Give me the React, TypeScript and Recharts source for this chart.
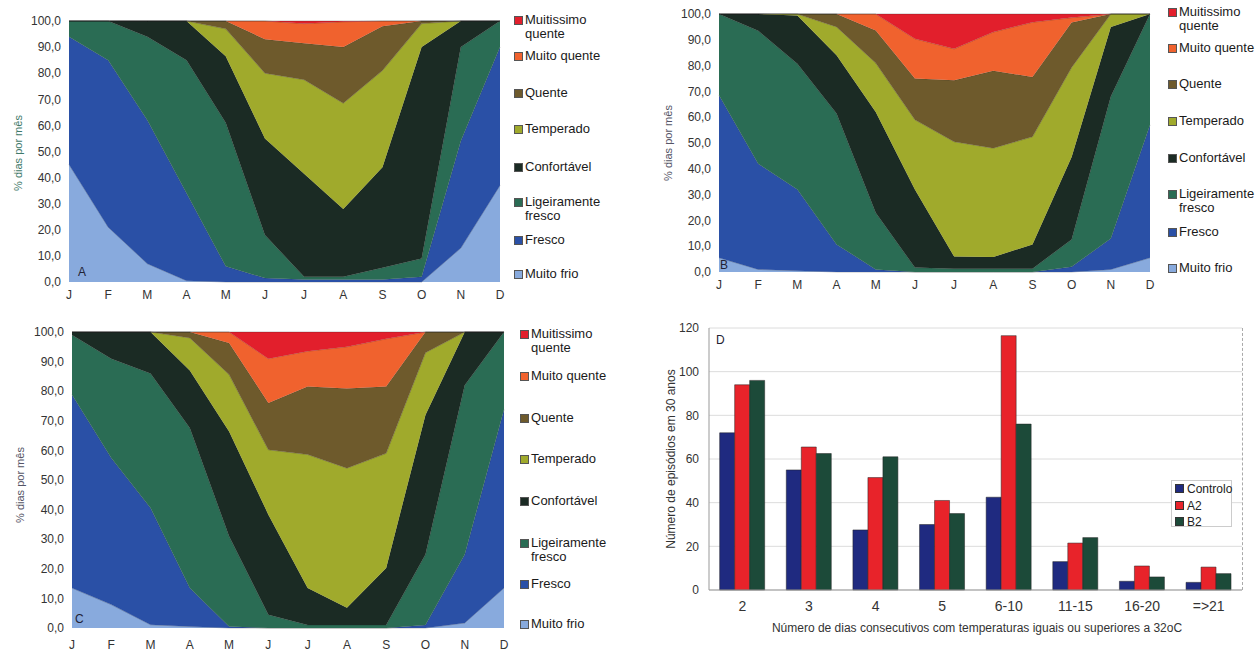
import React from "react";
import { AreaChart, Area, BarChart, Bar, XAxis, YAxis, CartesianGrid } from "recharts";

const months = ["J", "F", "M", "A", "M", "J", "J", "A", "S", "O", "N", "D"];

// bottom to top of the stack
const classNames = [
  "Muito frio",
  "Fresco",
  "Ligeiramente\nfresco",
  "Confortável",
  "Temperado",
  "Quente",
  "Muito quente",
  "Muitissimo\nquente",
];
const classColors = ["#88aadd", "#2a50a6", "#2a6c54", "#1b2b24", "#a0aa2c", "#6e5a2c", "#f0622e", "#e21f2c"];

// painel A
const aMuitoFrio = [45, 21, 7, 0.5, 0, 0, 0, 0, 0, 0, 13, 37];
const aFresco = [49, 64, 55, 33.5, 6, 1.5, 1, 1, 1, 2, 41, 53];
const aLigFresco = [6, 15, 32, 51, 55, 16.5, 1, 1, 4.5, 7, 36, 10];
const aConfortavel = [0, 0, 6, 15, 25.5, 37, 39.5, 26, 38.5, 81, 10, 0];
const aTemperado = [0, 0, 0, 0, 10.5, 25, 36, 40.5, 37, 9, 0, 0];
const aQuente = [0, 0, 0, 0, 3, 13, 14, 21.5, 17, 1, 0, 0];
const aMuitoQuente = [0, 0, 0, 0, 0, 7, 7.5, 9.7, 2, 0, 0, 0];
const aMuitissimo = [0, 0, 0, 0, 0, 0, 1, 0.3, 0, 0, 0, 0];

// painel B
const bMuitoFrio = [5.5, 1, 0.5, 0, 0, 0, 0, 0, 0, 0, 1, 5.5];
const bFresco = [63, 41, 31.5, 10.7, 1, 0, 0, 0, 0, 2, 12, 51.5];
const bLigFresco = [31.5, 51.5, 48.7, 50.7, 22, 1.7, 1.3, 1.3, 1.3, 10.6, 55, 43];
const bConfortavel = [0, 6.5, 18.7, 22.6, 39, 30.3, 4.7, 4.5, 9.4, 32, 27, 0];
const bTemperado = [0, 0, 0.6, 11, 19, 27, 44.5, 42.2, 41.7, 34.7, 5, 0];
const bQuente = [0, 0, 0, 5, 12.6, 16, 23.8, 30, 23.2, 17.4, 0, 0];
const bMuitoQuente = [0, 0, 0, 0, 6.4, 15.4, 12.2, 15, 21.2, 1.9, 0, 0];
const bMuitissimo = [0, 0, 0, 0, 0, 9.6, 13.5, 7, 3.2, 1.4, 0, 0];

// painel C
const cMuitoFrio = [13.5, 7.9, 1.1, 0.5, 0, 0, 0, 0, 0, 0, 1.7, 13.5];
const cFresco = [65.3, 49.5, 39.4, 13, 0.5, 0, 0, 0, 0, 1, 23.1, 60.3];
const cLigFresco = [20.2, 33.6, 45.5, 54.1, 30.5, 4.5, 1, 1, 1, 23.8, 57.2, 26.2];
const cConfortavel = [1, 9, 14, 19.4, 35.4, 33.8, 12.5, 5.8, 19.3, 47.2, 18, 0];
const cTemperado = [0, 0, 0, 11, 19.2, 21.9, 45.1, 47.2, 38.7, 21, 0, 0];
const cQuente = [0, 0, 0, 2, 10.7, 15.8, 23, 26.9, 22.6, 7, 0, 0];
const cMuitoQuente = [0, 0, 0, 0, 3.7, 15, 11.9, 14.1, 16.1, 0, 0, 0];
const cMuitissimo = [0, 0, 0, 0, 0, 9, 6.5, 5, 2.3, 0, 0, 0];

// painel D
const dCats = ["2", "3", "4", "5", "6-10", "11-15", "16-20", "=>21"];
const dControlo = [72, 55, 27.5, 30, 42.5, 13, 4, 3.5];
const dA2 = [94, 65.5, 51.5, 41, 116.5, 21.5, 11, 10.5];
const dB2 = [96, 62.5, 61, 35, 76, 24, 6, 7.5];

const pctTicks = [0, 10, 20, 30, 40, 50, 60, 70, 80, 90, 100];
const countTicks = [0, 20, 40, 60, 80, 100, 120];

const FONT = '"Liberation Sans", Arial, sans-serif';

function VText({ x, y, text, size, color }: { x: number; y: number; text: string; size: number; color: string }) {
  return (
    <div
      style={{
        position: "absolute",
        left: x,
        top: y,
        transform: "translate(-50%, -50%) rotate(-90deg)",
        whiteSpace: "nowrap",
        fontSize: size,
        color,
      }}
    >
      {text}
    </div>
  );
}

function ClassLegend({ x, ys }: { x: number; ys: number[] }) {
  // ys run from the top item (Muitissimo quente) down to Muito frio
  return (
    <>
      {ys.map((y, n) => {
        const k = classNames.length - 1 - n;
        return (
          <div key={k} style={{ position: "absolute", left: x, top: y - 7, fontSize: 13, lineHeight: "14px", color: "#1a1a1a" }}>
            <span
              style={{
                position: "absolute",
                left: 0,
                top: 3,
                width: 7,
                height: 7,
                background: classColors[k],
                border: "0.5px solid #555",
              }}
            />
            <div style={{ marginLeft: 11, whiteSpace: "pre" }}>{classNames[k]}</div>
          </div>
        );
      })}
    </>
  );
}

type AreaPanelProps = {
  left: number;
  top: number;
  width: number;
  height: number;
  plotLeft: number;
  plotTop: number;
  plotRight: number;
  plotBottom: number;
  series: number[][];
  tickGap?: number;
};

function AreaPanel({ left, top, width, height, plotLeft, plotTop, plotRight, plotBottom, series, tickGap = 2 }: AreaPanelProps) {
  const rows = months.map((m, i) => {
    const r: Record<string, number> = { i };
    series.forEach((s, k) => {
      r["k" + k] = s[i];
    });
    return r;
  });
  return (
    <div style={{ position: "absolute", left, top }}>
      <AreaChart
        width={width}
        height={height}
        data={rows}
        margin={{ top: plotTop, right: width - plotRight, left: 0, bottom: 0 }}
      >
        <XAxis
          dataKey="i"
          tickFormatter={(v: number) => months[v]}
          interval={0}
          height={height - plotBottom}
          axisLine={false}
          tickLine={false}
          tickMargin={tickGap}
          tick={{ fontSize: 12, fill: "#333", fontFamily: FONT }}
        />
        <YAxis
          domain={[0, 100]}
          ticks={pctTicks}
          width={plotLeft}
          interval={0}
          axisLine={false}
          tickLine={false}
          tickFormatter={(v: number) => v.toFixed(1).replace(".", ",")}
          tick={{ fontSize: 12, fill: "#333", fontFamily: FONT }}
        />
        {series.map((s, k) => (
          <Area
            key={k}
            type="linear"
            dataKey={"k" + k}
            stackId="1"
            fill={classColors[k]}
            fillOpacity={1}
            stroke="#222"
            strokeOpacity={0.35}
            strokeWidth={0.8}
            isAnimationActive={false}
          />
        ))}
      </AreaChart>
    </div>
  );
}

export default function App() {
  const dRows = dCats.map((c, i) => ({ c, controlo: dControlo[i], a2: dA2[i], b2: dB2[i] }));

  return (
    <div
      style={{
        position: "absolute",
        left: 0,
        top: 0,
        width: 1257,
        height: 651,
        background: "#fff",
        overflow: "hidden",
        fontFamily: FONT,
      }}
    >
      {/* A */}
      <AreaPanel
        left={0}
        top={0}
        width={620}
        height={310}
        plotLeft={69}
        plotTop={21}
        plotRight={500}
        plotBottom={282}
        series={[aMuitoFrio, aFresco, aLigFresco, aConfortavel, aTemperado, aQuente, aMuitoQuente, aMuitissimo]}
      />
      <VText x={18} y={153} text="% dias por mês" size={11} color="#3f7a6a" />
      <div style={{ position: "absolute", left: 78, top: 265, fontSize: 12, color: "#223" }}>A</div>
      <ClassLegend x={514} ys={[20, 56, 93, 129, 167, 202, 240, 274]} />

      {/* B */}
      <AreaPanel
        left={630}
        top={0}
        width={627}
        height={310}
        plotLeft={89}
        plotTop={14}
        plotRight={520}
        plotBottom={272}
        series={[bMuitoFrio, bFresco, bLigFresco, bConfortavel, bTemperado, bQuente, bMuitoQuente, bMuitissimo]}
      />
      <VText x={668} y={143} text="% dias por mês" size={11} color="#556" />
      <div style={{ position: "absolute", left: 720, top: 258, fontSize: 12, color: "#223" }}>B</div>
      <ClassLegend x={1168} ys={[12, 48, 84, 121, 158, 194, 232, 268]} />

      {/* C */}
      <AreaPanel
        left={0}
        top={315}
        width={620}
        height={336}
        plotLeft={72}
        plotTop={17}
        plotRight={504}
        plotBottom={313}
        tickGap={6}
        series={[cMuitoFrio, cFresco, cLigFresco, cConfortavel, cTemperado, cQuente, cMuitoQuente, cMuitissimo]}
      />
      <VText x={20} y={485} text="% dias por mês" size={11} color="#556" />
      <div style={{ position: "absolute", left: 75, top: 612, fontSize: 12, color: "#223" }}>C</div>
      <ClassLegend x={520} ys={[334, 376, 418, 459, 501, 543, 584, 624]} />

      {/* D */}
      <div style={{ position: "absolute", left: 640, top: 315 }}>
        <BarChart
          width={617}
          height={336}
          data={dRows}
          margin={{ top: 13, right: 15, left: 0, bottom: 0 }}
          barCategoryGap="16%"
          barGap={0}
        >
          <CartesianGrid vertical={false} stroke="#dcdcdc" />
          <XAxis
            dataKey="c"
            interval={0}
            height={61}
            axisLine={{ stroke: "#999" }}
            tickLine={false}
            tickMargin={5}
            tick={{ fontSize: 14, fill: "#333", fontFamily: FONT }}
          />
          <YAxis
            domain={[0, 120]}
            ticks={countTicks}
            width={69}
            interval={0}
            axisLine={{ stroke: "#999" }}
            tickLine={false}
            tickMargin={4}
            tick={{ fontSize: 12, fill: "#333", fontFamily: FONT }}
          />
          <Bar dataKey="controlo" fill="#1f2a80" stroke="#222" strokeWidth={0.5} isAnimationActive={false} />
          <Bar dataKey="a2" fill="#e8232a" stroke="#222" strokeWidth={0.5} isAnimationActive={false} />
          <Bar dataKey="b2" fill="#1c4a39" stroke="#222" strokeWidth={0.5} isAnimationActive={false} />
        </BarChart>
      </div>
      <div style={{ position: "absolute", left: 1242, top: 328, height: 262, borderLeft: "1px dashed #aaa" }} />
      <div style={{ position: "absolute", left: 716, top: 333, fontSize: 12, color: "#223" }}>D</div>
      <VText x={671} y={459} text="Número de episódios em 30 anos" size={12} color="#333" />
      <div
        style={{
          position: "absolute",
          left: 977,
          top: 628,
          transform: "translate(-50%, -50%)",
          whiteSpace: "nowrap",
          fontSize: 12,
          color: "#333",
        }}
      >
        Número de dias consecutivos com temperaturas iguais ou superiores a 32oC
      </div>
      <div
        style={{
          position: "absolute",
          left: 1171,
          top: 480,
          width: 61,
          height: 47,
          border: "1px solid #ccc",
          background: "#fff",
          boxSizing: "border-box",
          fontSize: 12,
          color: "#222",
        }}
      >
        {[
          ["Controlo", "#1f2a80"],
          ["A2", "#e8232a"],
          ["B2", "#1c4a39"],
        ].map(([name, col], i) => (
          <div key={name} style={{ position: "absolute", left: 3, top: 1 + i * 16.5, lineHeight: "14px", whiteSpace: "nowrap" }}>
            <span style={{ display: "inline-block", width: 7, height: 7, background: col, border: "0.5px solid #333", marginRight: 3 }} />
            {name}
          </div>
        ))}
      </div>
    </div>
  );
}
